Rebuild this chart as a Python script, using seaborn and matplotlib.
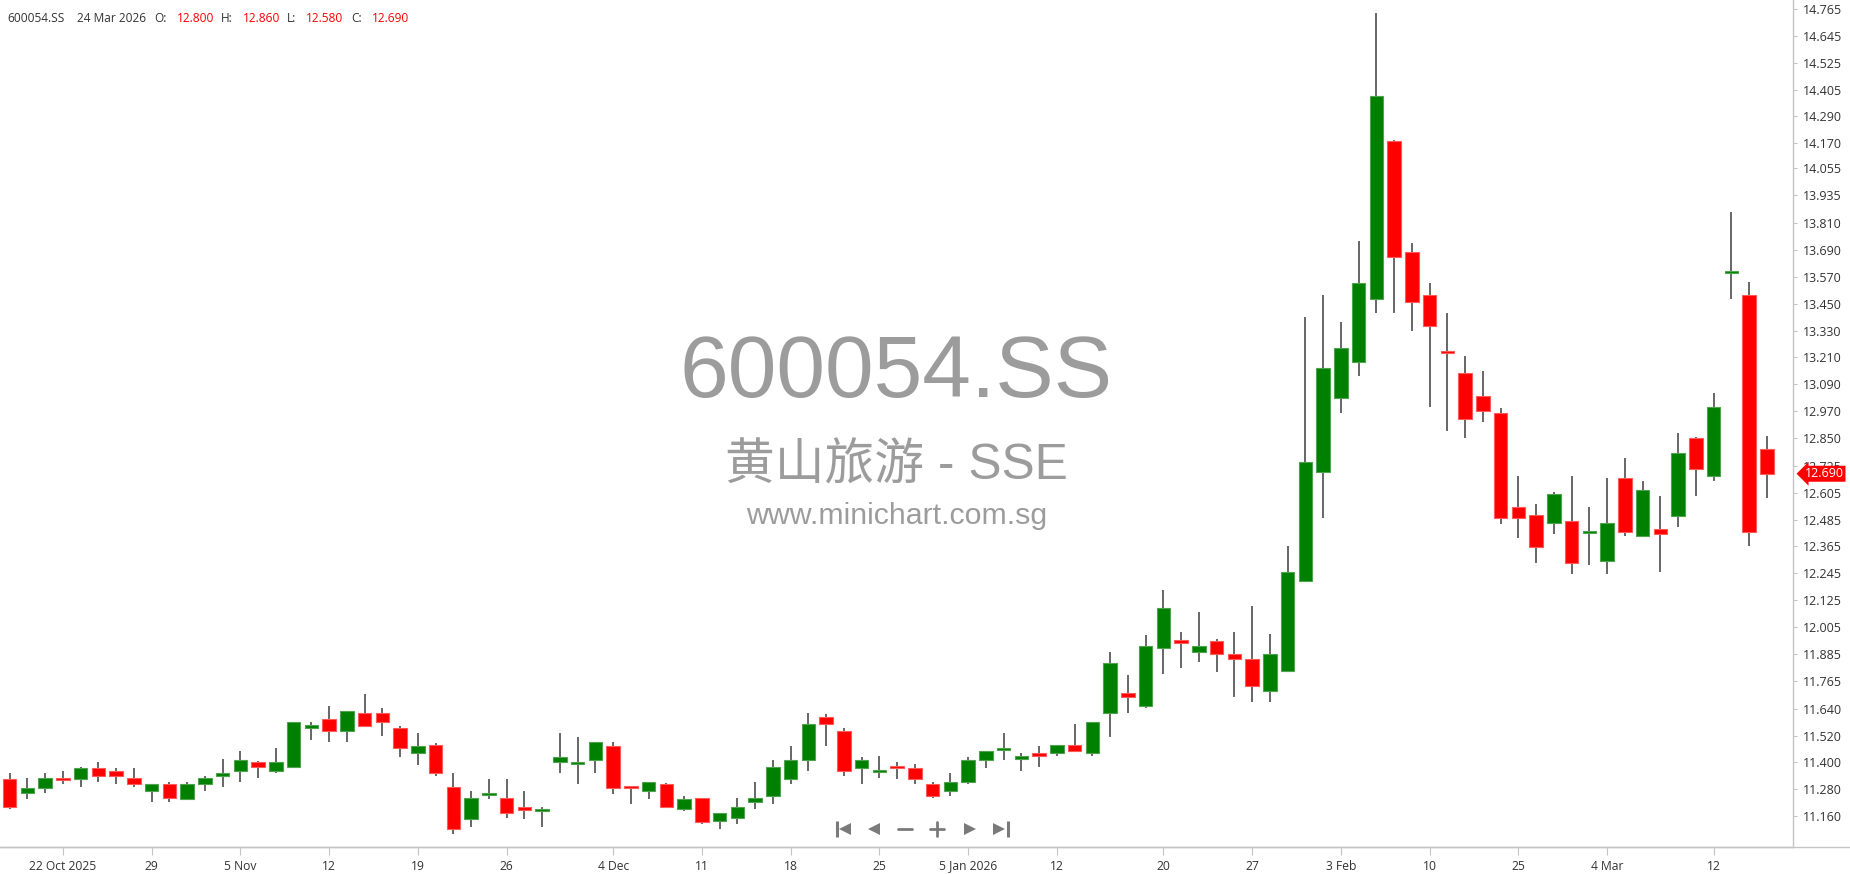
import numpy as np
import pandas as pd
import matplotlib
matplotlib.use("Agg")
import matplotlib.pyplot as plt
import matplotlib.transforms as mtransforms
from matplotlib.lines import Line2D
import seaborn as sns

sns.set_theme(style="white")
plt.rcParams["font.family"] = ["Open Sans", "Noto Sans CJK SC", "DejaVu Sans"]

# ---------------- data ----------------
opens = [11.325, 11.263, 11.286, 11.328, 11.324, 11.374, 11.362, 11.329, 11.274, 11.302,
         11.235, 11.302, 11.342, 11.363, 11.402, 11.363, 11.380, 11.558, 11.593, 11.542,
         11.619, 11.619, 11.552, 11.441, 11.479, 11.290, 11.147, 11.257, 11.240, 11.201,
         11.186, 11.402, 11.392, 11.412, 11.473, 11.291, 11.274, 11.302, 11.190, 11.240,
         11.137, 11.152, 11.225, 11.252, 11.324, 11.412, 11.603, 11.540, 11.374, 11.358,
         11.380, 11.374, 11.302, 11.274, 11.311, 11.412, 11.459, 11.420, 11.441, 11.441,
         11.479, 11.441, 11.619, 11.709, 11.654, 11.910, 11.948, 11.894, 11.944, 11.883,
         11.861, 11.721, 11.810, 12.212, 12.700, 13.027, 13.190, 13.470, 14.176, 13.680,
         13.490, 13.239, 13.139, 13.038, 12.960, 12.540, 12.507, 12.469, 12.479, 12.428,
         12.302, 12.670, 12.414, 12.442, 12.503, 12.848, 12.682, 13.590, 13.490, 12.800]
highs = [11.351, 11.329, 11.351, 11.363, 11.378, 11.400, 11.374, 11.374, 11.302, 11.311,
         11.311, 11.339, 11.414, 11.451, 11.406, 11.463, 11.581, 11.581, 11.654, 11.631,
         11.704, 11.642, 11.564, 11.530, 11.485, 11.351, 11.274, 11.325, 11.325, 11.274,
         11.201, 11.530, 11.514, 11.491, 11.491, 11.291, 11.311, 11.306, 11.252, 11.240,
         11.173, 11.240, 11.311, 11.412, 11.473, 11.619, 11.615, 11.552, 11.424, 11.430,
         11.400, 11.392, 11.311, 11.351, 11.424, 11.451, 11.530, 11.441, 11.473, 11.479,
         11.570, 11.581, 11.893, 11.792, 11.971, 12.172, 11.982, 12.072, 11.950, 11.982,
         12.099, 11.973, 12.369, 13.389, 13.490, 13.367, 13.730, 14.747, 14.181, 13.720,
         13.541, 13.407, 13.216, 13.151, 12.982, 12.680, 12.554, 12.607, 12.680, 12.540,
         12.670, 12.759, 12.658, 12.591, 12.871, 12.854, 13.049, 13.860, 13.545, 12.860]
lows = [11.190, 11.235, 11.263, 11.302, 11.292, 11.314, 11.302, 11.292, 11.225, 11.225,
        11.235, 11.274, 11.292, 11.314, 11.329, 11.351, 11.374, 11.502, 11.491, 11.491,
        11.564, 11.520, 11.424, 11.390, 11.339, 11.081, 11.113, 11.235, 11.152, 11.146,
        11.113, 11.351, 11.302, 11.351, 11.257, 11.214, 11.235, 11.202, 11.184, 11.125,
        11.103, 11.125, 11.190, 11.214, 11.302, 11.363, 11.473, 11.341, 11.302, 11.329,
        11.324, 11.302, 11.240, 11.252, 11.302, 11.374, 11.412, 11.363, 11.380, 11.430,
        11.453, 11.430, 11.514, 11.619, 11.642, 11.793, 11.820, 11.849, 11.804, 11.694,
        11.672, 11.672, 11.810, 12.212, 12.491, 12.960, 13.128, 13.407, 13.407, 13.330,
        12.990, 12.883, 12.849, 12.921, 12.464, 12.402, 12.290, 12.420, 12.241, 12.280,
        12.241, 12.414, 12.414, 12.251, 12.452, 12.591, 12.659, 13.470, 12.369, 12.580]
closes = [11.202, 11.284, 11.329, 11.324, 11.374, 11.341, 11.341, 11.302, 11.302, 11.240,
          11.302, 11.329, 11.351, 11.412, 11.380, 11.402, 11.581, 11.564, 11.542, 11.631,
          11.564, 11.581, 11.463, 11.473, 11.351, 11.104, 11.240, 11.262, 11.174, 11.186,
          11.190, 11.424, 11.402, 11.491, 11.284, 11.286, 11.311, 11.202, 11.235, 11.135,
          11.173, 11.201, 11.240, 11.380, 11.412, 11.570, 11.570, 11.363, 11.412, 11.363,
          11.376, 11.324, 11.252, 11.311, 11.412, 11.451, 11.463, 11.424, 11.430, 11.479,
          11.453, 11.581, 11.843, 11.692, 11.920, 12.088, 11.934, 11.920, 11.883, 11.861,
          11.743, 11.883, 12.250, 12.741, 13.161, 13.251, 13.541, 14.377, 13.659, 13.458,
          13.352, 13.230, 12.933, 12.972, 12.491, 12.491, 12.363, 12.601, 12.290, 12.432,
          12.469, 12.430, 12.619, 12.420, 12.781, 12.710, 12.987, 13.596, 12.430, 12.690]

xtick_pos = [3, 8, 13, 18, 23, 28, 34, 39, 44, 49, 54, 59, 65, 70, 75, 80, 85, 90, 96]
xtick_labels = ["22 Oct 2025", "29", "5 Nov", "12", "19", "26", "4 Dec", "11", "18", "25",
                "5 Jan 2026", "12", "20", "27", "3 Feb", "10", "25", "4 Mar", "12"]
ytick_labels = ["14.765", "14.645", "14.525", "14.405", "14.290", "14.170", "14.055",
                "13.935", "13.810", "13.690", "13.570", "13.450", "13.330", "13.210",
                "13.090", "12.970", "12.850", "12.725", "12.605", "12.485", "12.365",
                "12.245", "12.125", "12.005", "11.885", "11.765", "11.640", "11.520",
                "11.400", "11.280", "11.160"]
ticker = "600054.SS"
last_date = "24 Mar 2026"
name_line = "黄山旅游 - SSE"
site = "www.minichart.com.sg"

df = pd.DataFrame({"open": opens, "high": highs, "low": lows, "close": closes})
df["i"] = np.arange(len(df))
df["up"] = df["close"] >= df["open"]

W, H = 1850, 874
fig = plt.figure(figsize=(W / 100, H / 100), dpi=100)
fig.patch.set_facecolor("white")
ax = fig.add_axes([0, 27 / H, 1793 / W, 847 / H])
ax.set_facecolor("white")

GREEN, RED = "#008000", "#ff0000"
GREEN_E, RED_E = "#4fa34f", "#ff5a5a"

# wicks
ax.vlines(df["i"], df["low"], df["high"], color="#5a5a5a", lw=1.3, zorder=1)

# bodies
min_h = 0.010
body = (df["close"] - df["open"]).abs()
mid = (df["close"] + df["open"]) / 2
heights = np.maximum(body, min_h)
bottoms = np.where(body < min_h, mid - min_h / 2, np.minimum(df["open"], df["close"]))
ax.bar(df["i"], heights, bottom=bottoms, width=0.76,
       color=np.where(df["up"], GREEN, RED),
       edgecolor=np.where(df["up"], GREEN_E, RED_E), linewidth=0.8, zorder=2)

# axes ranges
ax.set_xlim(-0.546, 100.47)
ax.set_ylim(11.022, 14.807)

# y axis on right
ytick_vals = [float(s) for s in ytick_labels]
ax.yaxis.tick_right()
ax.set_yticks(ytick_vals)
ax.set_yticklabels(ytick_labels)
ax.tick_params(axis="y", direction="out", length=3, width=0.8, color="#c4c4c4",
               labelsize=9, labelcolor="#333333", pad=4, right=True, left=False)

ax.set_xticks(xtick_pos)
ax.set_xticklabels(xtick_labels)
ax.tick_params(axis="x", direction="out", length=6, width=0.8, color="#c4c4c4",
               labelsize=8.7, labelcolor="#333333", pad=3, bottom=True)

for s in ["top", "left"]:
    ax.spines[s].set_visible(False)
for s in ["right", "bottom"]:
    ax.spines[s].set_color("#c4c4c4")
    ax.spines[s].set_linewidth(1.0)
ax.grid(False)

# bottom line extends under the price scale
fig.add_artist(Line2D([0, 1], [27 / H, 27 / H], transform=fig.transFigure,
                      color="#c4c4c4", lw=1.0))

# watermark
wm = "#9c9c9c"
ax.text(0.5, 0.5316, ticker, transform=ax.transAxes, ha="center", va="baseline",
        fontsize=63, color=wm, family=["Liberation Sans", "DejaVu Sans"], zorder=0)
ax.text(0.5, 0.4333, name_line, transform=ax.transAxes, ha="center", va="baseline",
        fontsize=35.8, color=wm, family=["Liberation Sans", "Noto Sans CJK SC", "DejaVu Sans"],
        zorder=0)
ax.text(0.5, 0.3813, site, transform=ax.transAxes, ha="center", va="baseline",
        fontsize=21.8, color=wm, family=["Liberation Sans", "DejaVu Sans"], zorder=0)

# header
hy = 1 - 18 / H
hfs = 8.6
fig.text(7 / W, hy, ticker, color="#333333", fontsize=hfs, va="center", ha="left")
fig.text(77 / W, hy, last_date, color="#333333", fontsize=hfs, va="center", ha="left")
hdr = [("O:", 154, opens[-1], 177), ("H:", 221, highs[-1], 243),
       ("L:", 287, lows[-1], 306), ("C:", 351, closes[-1], 372)]
for lab, lx, val, vx in hdr:
    fig.text(lx / W, hy, lab, color="#333333", fontsize=hfs, va="center", ha="left")
    fig.text(vx / W, hy, f"{val:.3f}", color="#ff0000", fontsize=hfs, va="center", ha="left")

# last price tag on price scale (covers the neighbouring label, as in the source)
trans = mtransforms.blended_transform_factory(ax.transAxes, ax.transData)
ax.text(1.0 + 12 / 1793, closes[-1], f"{closes[-1]:.3f}", transform=trans, ha="left",
        va="center", color="white", fontsize=9, clip_on=False, zorder=5,
        bbox=dict(boxstyle="larrow,pad=0.12", fc="#ff0000", ec="none"))

# navigation icons
ident = mtransforms.IdentityTransform()
ny = H - 829
icol = "#7a7a7a"
icons = [
    ([836.5], ["|"], 11), ([845], ["<"], 9),
    ([874], ["<"], 9),
    ([905], ["_"], 12),
    ([937], ["+"], 11),
    ([970], [">"], 9),
    ([999], [">"], 9), ([1007.5], ["|"], 11),
]
for xs, ms, sz in icons:
    for x, m in zip(xs, ms):
        if m == "_":
            fig.add_artist(Line2D([898, 912], [ny, ny], transform=ident, color=icol, lw=2))
        elif m == "+":
            fig.add_artist(Line2D([930, 944], [ny, ny], transform=ident, color=icol, lw=2))
            fig.add_artist(Line2D([937, 937], [ny - 7, ny + 7], transform=ident, color=icol, lw=2))
        else:
            fig.add_artist(Line2D([x], [ny], transform=ident, marker=m, markersize=sz,
                                  color=icol, markeredgewidth=2.2 if m == "|" else 0,
                                  markerfacecolor=icol, linestyle="none"))

fig.savefig("out.png", dpi=100, facecolor="white")
